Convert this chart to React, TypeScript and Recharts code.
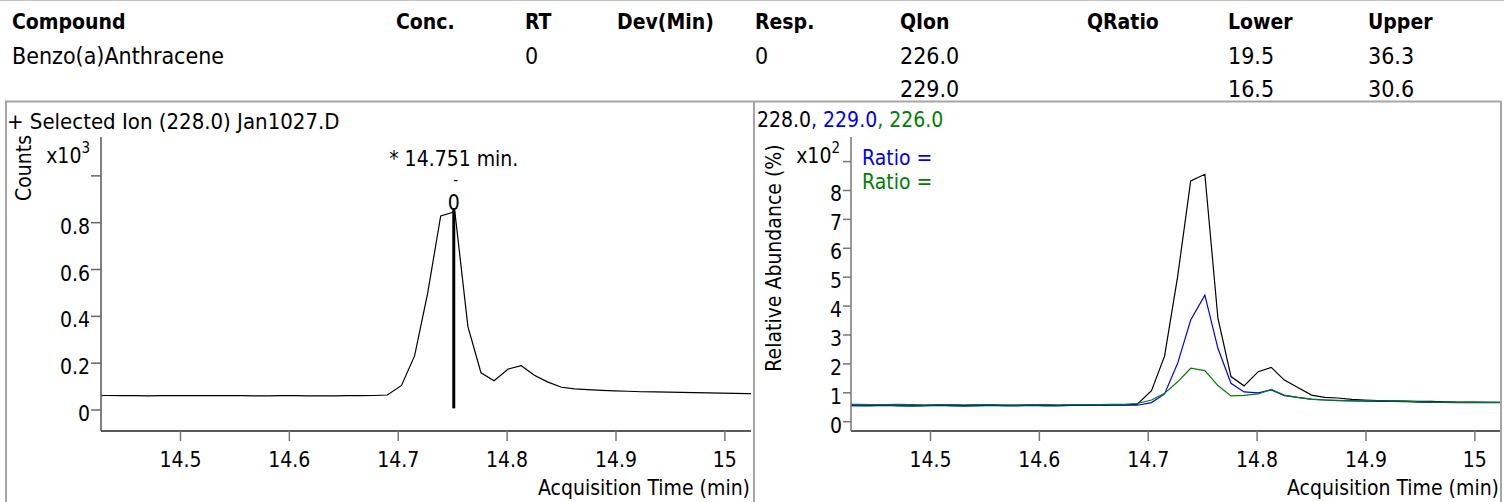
import React from 'react';
import { LineChart, Line, XAxis, YAxis, ReferenceLine, ReferenceDot } from 'recharts';

const FONT = "'DejaVu Sans Condensed', 'DejaVu Sans', sans-serif";

// ---- table ----
const headerCols = ['Compound', 'Conc.', 'RT', 'Dev(Min)', 'Resp.', 'QIon', 'QRatio', 'Lower', 'Upper'];
const tableRow1 = ['Benzo(a)Anthracene', '', '0', '', '0', '226.0', '', '19.5', '36.3'];
const tableRow2 = ['', '', '', '', '', '229.0', '', '16.5', '30.6'];
const colX = [12, 396, 525, 617, 755, 900, 1087, 1228, 1368];

// ---- chromatogram data ----
const times = [14.421, 14.433, 14.445, 14.458, 14.470, 14.482, 14.494, 14.507, 14.519, 14.531,
  14.543, 14.556, 14.568, 14.580, 14.592, 14.605, 14.617, 14.629, 14.641, 14.654,
  14.666, 14.678, 14.690, 14.703, 14.715, 14.727, 14.739, 14.752, 14.764, 14.776,
  14.788, 14.801, 14.813, 14.825, 14.837, 14.850, 14.862, 14.874, 14.887, 14.899,
  14.911, 14.923, 14.936, 14.948, 14.960, 14.972, 14.985, 14.997, 15.009, 15.021, 15.034];

// ion 228.0 counts (x10^3)
const counts228 = [0.062, 0.062, 0.061, 0.061, 0.060, 0.061, 0.061, 0.062, 0.061, 0.061,
  0.062, 0.061, 0.060, 0.060, 0.061, 0.061, 0.060, 0.060, 0.060, 0.061,
  0.061, 0.062, 0.064, 0.105, 0.231, 0.498, 0.829, 0.847, 0.356, 0.159,
  0.125, 0.175, 0.189, 0.148, 0.120, 0.097, 0.090, 0.087, 0.084, 0.082,
  0.080, 0.078, 0.077, 0.076, 0.075, 0.074, 0.073, 0.072, 0.071, 0.070, 0.069];

// relative abundance (x10^2 %)
const rel228 = [0.58, 0.58, 0.57, 0.57, 0.58, 0.57, 0.56, 0.57, 0.57, 0.56,
  0.57, 0.57, 0.56, 0.56, 0.57, 0.57, 0.56, 0.57, 0.57, 0.57,
  0.58, 0.58, 0.61, 1.07, 2.27, 5.02, 8.33, 8.56, 3.58, 1.56,
  1.24, 1.73, 1.88, 1.44, 1.19, 0.92, 0.84, 0.82, 0.77, 0.75,
  0.73, 0.72, 0.71, 0.70, 0.70, 0.69, 0.68, 0.68, 0.67, 0.67, 0.66];
const rel229 = [0.56, 0.55, 0.55, 0.56, 0.55, 0.54, 0.55, 0.56, 0.55, 0.54,
  0.55, 0.56, 0.55, 0.55, 0.56, 0.55, 0.55, 0.56, 0.56, 0.56,
  0.57, 0.57, 0.57, 0.66, 0.96, 2.02, 3.52, 4.38, 2.54, 1.33,
  1.03, 1.00, 1.10, 0.90, 0.84, 0.78, 0.75, 0.73, 0.72, 0.71,
  0.70, 0.70, 0.69, 0.68, 0.67, 0.67, 0.66, 0.66, 0.67, 0.66, 0.65];
const rel226 = [0.60, 0.60, 0.59, 0.59, 0.60, 0.59, 0.58, 0.59, 0.59, 0.58,
  0.59, 0.59, 0.58, 0.58, 0.59, 0.59, 0.58, 0.59, 0.59, 0.59,
  0.60, 0.60, 0.63, 0.75, 0.98, 1.38, 1.85, 1.77, 1.25, 0.89,
  0.91, 0.96, 1.12, 0.92, 0.84, 0.77, 0.75, 0.74, 0.73, 0.73,
  0.72, 0.72, 0.71, 0.69, 0.68, 0.68, 0.67, 0.68, 0.67, 0.67, 0.66];

const xTicks = [14.5, 14.6, 14.7, 14.8, 14.9, 15];
const xTickLabels = ['14.5', '14.6', '14.7', '14.8', '14.9', '15'];
const leftYTicks = [0, 0.2, 0.4, 0.6, 0.8, 1.0];
const leftYLabels = ['0', '0.2', '0.4', '0.6', '0.8', ''];
const rightYTicks = [0, 1, 2, 3, 4, 5, 6, 7, 8, 9];
const rightYLabels = ['0', '1', '2', '3', '4', '5', '6', '7', '8', ''];

const peakRT = 14.751;
const peakText = '* 14.751 min.';
const markerBottom = 0.007;
const markerTop = 0.854;

const X_DOMAIN: [number, number] = [14.427, 15.024];
const LEFT_Y_DOMAIN: [number, number] = [-0.0897, 1.166];
const RIGHT_Y_DOMAIN: [number, number] = [-0.322, 9.851];

const data = times.map((t, i) => ({ t, c: counts228[i], a: rel228[i], b: rel229[i], g: rel226[i] }));

const FS = 21;

const makeXTick = (props: any) => {
  const { x, y, payload } = props;
  const idx = xTicks.indexOf(payload.value);
  return (
    <text x={x} y={y + 24} textAnchor="middle" fontSize={FS} fill="#000" fontFamily={FONT}>
      {idx >= 0 ? xTickLabels[idx] : String(payload.value)}
    </text>
  );
};

const makeYTick = (ticks: number[], labels: string[]) => (props: any) => {
  const { x, y, payload } = props;
  const idx = ticks.findIndex((v) => Math.abs(v - payload.value) < 1e-9);
  return (
    <text x={x + 1} y={y + 11} textAnchor="end" fontSize={FS} fill="#000" fontFamily={FONT}>
      {idx >= 0 ? labels[idx] : ''}
    </text>
  );
};

const MarkerLabel = (props: any) => {
  const { cx, cy } = props;
  if (cx == null || cy == null) return <g />;
  return (
    <g fontFamily={FONT} fill="#000">
      <text x={cx} y={cy - 44} textAnchor="middle" fontSize={FS}>{peakText}</text>
      <text x={cx + 2} y={cy - 25} textAnchor="middle" fontSize={15}>-</text>
      <text x={cx} y={cy} textAnchor="middle" fontSize={FS}>0</text>
    </g>
  );
};

export default function App() {
  const border = '#a6a6a6';
  return (
    <div style={{ position: 'absolute', left: 0, top: 0, width: 1504, height: 502, background: '#fff', overflow: 'hidden', fontFamily: FONT }}>
      {/* left chart */}
      <div style={{ position: 'absolute', left: 0, top: 100 }}>
        <LineChart width={752} height={402} data={data} margin={{ top: 37, right: 1, bottom: 31, left: 1 }}>
          <XAxis type="number" dataKey="t" domain={X_DOMAIN} allowDataOverflow ticks={xTicks} interval={0}
            tickSize={10} height={40} axisLine={{ stroke: '#222', strokeWidth: 1.5 }} tickLine={{ stroke: '#777', strokeWidth: 1.5 }} tick={makeXTick} />
          <YAxis type="number" domain={LEFT_Y_DOMAIN} allowDataOverflow ticks={leftYTicks} interval={0}
            width={100} tickSize={10} axisLine={{ stroke: '#555', strokeWidth: 1.5 }} tickLine={{ stroke: '#666', strokeWidth: 1.5 }} tick={makeYTick(leftYTicks, leftYLabels)} />
          <Line type="linear" dataKey="c" stroke="#000" strokeWidth={1.2} dot={false} isAnimationActive={false} />
          <ReferenceLine segment={[{ x: peakRT, y: markerBottom }, { x: peakRT, y: markerTop }]} stroke="#000" strokeWidth={3} />
          <ReferenceDot x={peakRT} y={markerTop} r={0} shape={MarkerLabel} />
        </LineChart>
      </div>

      {/* right chart */}
      <div style={{ position: 'absolute', left: 752, top: 100 }}>
        <LineChart width={752} height={402} data={data} margin={{ top: 37, right: 3, bottom: 31, left: 1 }}>
          <XAxis type="number" dataKey="t" domain={X_DOMAIN} allowDataOverflow ticks={xTicks} interval={0}
            tickSize={10} height={40} axisLine={{ stroke: '#222', strokeWidth: 1.5 }} tickLine={{ stroke: '#777', strokeWidth: 1.5 }} tick={makeXTick} />
          <YAxis type="number" domain={RIGHT_Y_DOMAIN} allowDataOverflow ticks={rightYTicks} interval={0}
            width={98} tickSize={8} axisLine={{ stroke: '#777', strokeWidth: 1.5 }} tickLine={{ stroke: '#777', strokeWidth: 1.5 }} tick={makeYTick(rightYTicks, rightYLabels)} />
          <Line type="linear" dataKey="a" stroke="#000" strokeWidth={1.2} dot={false} isAnimationActive={false} />
          <Line type="linear" dataKey="b" stroke="#0000ff" strokeWidth={1.2} dot={false} isAnimationActive={false} />
          <Line type="linear" dataKey="g" stroke="#008000" strokeWidth={1.2} dot={false} isAnimationActive={false} />
        </LineChart>
      </div>

      {/* static text and frame */}
      <svg width={1504} height={502} style={{ position: 'absolute', left: 0, top: 0, pointerEvents: 'none' }} fontFamily={FONT}>
        <line x1={0} y1={0.5} x2={1504} y2={0.5} stroke="#c0c0c0" strokeWidth={1} />
        <line x1={5} y1={101.5} x2={1501} y2={101.5} stroke={border} strokeWidth={2} />
        <line x1={6} y1={101} x2={6} y2={502} stroke={border} strokeWidth={2} />
        <line x1={754} y1={101} x2={754} y2={502} stroke={border} strokeWidth={2} />
        <line x1={1501} y1={101} x2={1501} y2={502} stroke={border} strokeWidth={2} />

        {headerCols.map((h, i) => (
          <text key={'h' + i} x={colX[i]} y={29} fontSize={21} fontWeight="bold" fill="#000">{h}</text>
        ))}
        {tableRow1.map((v, i) => (v ? <text key={'r1' + i} x={colX[i]} y={64} fontSize={23} fill="#000">{v}</text> : null))}
        {tableRow2.map((v, i) => (v ? <text key={'r2' + i} x={colX[i]} y={97} fontSize={23} fill="#000">{v}</text> : null))}

        <text x={7} y={129} fontSize={22} fill="#000">+ Selected Ion (228.0) Jan1027.D</text>
        <text x={31} y={168} fontSize={FS} fill="#000" textAnchor="middle" transform="rotate(-90 31 168)">Counts</text>
        <text x={90} y={163} fontSize={FS} fill="#000" textAnchor="end">x10<tspan fontSize={15} dy={-10}>3</tspan></text>
        <text x={750} y={495} fontSize={FS} fill="#000" textAnchor="end">Acquisition Time (min)</text>

        <text x={757} y={127} fontSize={FS}>
          <tspan fill="#000">228.0</tspan>
          <tspan fill="#0000ff">, 229.0</tspan>
          <tspan fill="#008000">, 226.0</tspan>
        </text>
        <text x={781} y={258} fontSize={FS} fill="#000" textAnchor="middle" transform="rotate(-90 781 258)">Relative Abundance (%)</text>
        <text x={840} y={163} fontSize={FS} fill="#000" textAnchor="end">x10<tspan fontSize={15} dy={-10}>2</tspan></text>
        <text x={862} y={165} fontSize={FS} fill="#0000ff">Ratio =</text>
        <text x={862} y={189} fontSize={FS} fill="#008000">Ratio =</text>
        <text x={1499} y={495} fontSize={FS} fill="#000" textAnchor="end">Acquisition Time (min)</text>
      </svg>
    </div>
  );
}
